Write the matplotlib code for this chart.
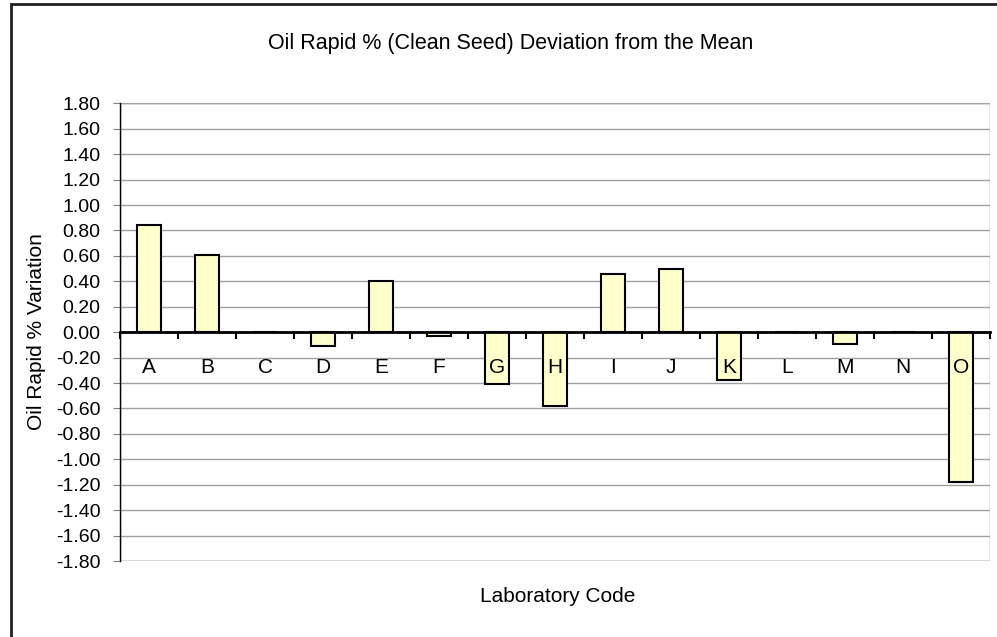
import numpy as np
import matplotlib
matplotlib.use("Agg")
import matplotlib.pyplot as plt
from matplotlib.patches import Rectangle

# Datos
labs = ["A", "B", "C", "D", "E", "F", "G", "H", "I", "J", "K", "L", "M", "N", "O"]
desviacion = [0.84, 0.61, 0.00, -0.11, 0.40, -0.03, -0.41, -0.58, 0.46, 0.50,
              -0.38, 0.00, -0.09, 0.00, -1.18]
yticks = np.round(np.arange(-1.8, 1.81, 0.2), 2)

plt.rcParams['font.family'] = ['Liberation Sans', 'DejaVu Sans']
plt.rcParams['font.size'] = 14

fig = plt.figure(figsize=(9.97, 6.37), dpi=100)
ax = fig.add_axes([120 / 997, 1 - 561 / 637, 870 / 997, (561 - 103.3) / 637])

x = np.arange(len(labs))
ax.bar(x, desviacion, width=0.4, color='#FFFFCC', edgecolor='black', linewidth=1.5, zorder=1)

ax.set_xlim(-0.5, len(labs) - 0.5)
ax.set_ylim(-1.8, 1.8)
ax.set_yticks(yticks)
ax.set_yticklabels([f"{v:.2f}" if abs(v) > 1e-9 else "0.00" for v in yticks])
ax.yaxis.grid(True, color='#a0a0a0', linewidth=1)
ax.set_axisbelow(True)
ax.tick_params(axis='y', length=5, color='#808080', pad=9, labelsize=14)

# Bordes del area de trazado
for s in ['top', 'right']:
    ax.spines[s].set_visible(False)
ax.add_patch(Rectangle((0, 0), 1, 1, transform=ax.transAxes, fill=False,
                       edgecolor='#808080', linewidth=1, zorder=0.5))
ax.spines['left'].set_color('black')
ax.spines['left'].set_linewidth(1)

# Eje x cruzando en cero
ax.spines['bottom'].set_position(('data', 0))
ax.spines['bottom'].set_color('black')
ax.spines['bottom'].set_linewidth(2)
ax.spines['bottom'].set_zorder(3)
ax.set_xticks(np.arange(-0.5, len(labs), 1))
ax.set_xticklabels([])
ax.tick_params(axis='x', which='major', length=5, width=1.5, direction='out', color='black')

# Etiquetas de categoria encima de las barras
for xi, lab in zip(x, labs):
    ax.text(xi, -0.28, lab, ha='center', va='center', fontsize=15, zorder=5)

fig.text(511 / 997, 1 - 43 / 637, "Oil Rapid % (Clean Seed) Deviation from the Mean",
         ha='center', va='center', fontsize=15.5)
fig.text(37 / 997, 1 - 332 / 637, "Oil Rapid % Variation", rotation=90,
         ha='center', va='center', fontsize=15)
fig.text(558 / 997, 1 - 596 / 637, "Laboratory Code", ha='center', va='center', fontsize=15)

# Marco exterior
fig.patches.append(Rectangle((11 / 997, -0.1), 1.2, 1.1 - 4 / 637, transform=fig.transFigure,
                             fill=False, edgecolor='#202020', linewidth=2))

fig.savefig("out.png", dpi=100)
